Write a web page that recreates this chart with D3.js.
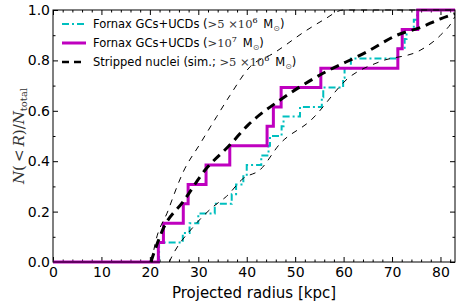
<!DOCTYPE html>
<html>
<head>
<meta charset="utf-8">
<script src="https://cdn.jsdelivr.net/npm/d3@7"></script>
<style>
  body { margin: 0; background: #fff; }
  svg { display: block; }
  .axis text { font-family: "DejaVu Sans", sans-serif; font-size: 14px; fill: #000; }
  .axis path, .axis line { stroke: #000; }
</style>
</head>
<body>
<div id="chart-area"></div>
<script>
// radii (kpc) of each object, sorted -> cumulative fraction
const cyanRadii = [21.9, 21.9, 26.8, 28.2, 30.0, 33.4, 36.9, 37.8, 39.3, 40.0, 43.0, 44.5, 44.8,
  47.2, 47.6, 51.0, 55.5, 55.8, 59.9, 60.2, 61.5, 71.2, 72.6, 73.0, 74.5, 75.2]
const magentaRadii = [21.75, 22.8, 26.9, 27.9, 31.6, 36.5, 44.2, 45.5, 47.1, 55.3, 71.2, 72.1, 75.3]

// simulated stripped nuclei: median and envelopes
const simR = [20.2, 22.8, 26.9, 31.4, 36.5, 40.3, 46.9, 55.1, 64.8, 71.0, 75.8, 80.0, 83.0]
const simMed = [0, 0.134, 0.24, 0.365, 0.464, 0.544, 0.643, 0.742, 0.834, 0.90, 0.93, 0.965, 0.985]
const upR = [20.5, 20.7, 23.8, 26.9, 30.4, 33.8, 36.5, 40.7, 45.5, 52.4, 55.8, 60.0, 83.0]
const upV = [0, 0.035, 0.206, 0.358, 0.47, 0.577, 0.66, 0.775, 0.828, 0.92, 0.96, 1.0, 1.0]
const loR = [24.0, 24.5, 29.0, 33.1, 35.8, 39.3, 42.7, 46.9, 53.1, 61.3, 67.5, 75.8, 80.0, 82.6, 83.0]
const loV = [0, 0.02, 0.14, 0.22, 0.26, 0.332, 0.365, 0.47, 0.56, 0.735, 0.795, 0.84, 0.9, 0.96, 0.975]

const xMajor = [0, 10, 20, 30, 40, 50, 60, 70, 80]
const yMajor = [0, 0.2, 0.4, 0.6, 0.8, 1.0]

const W = 458, H = 305
const PLOT = { LEFT: 53, RIGHT: 455, TOP: 10, BOTTOM: 262 }

const svg = d3.select("#chart-area").append("svg")
  .attr("width", W).attr("height", H)

const x = d3.scaleLinear().domain([0, 83]).range([PLOT.LEFT, PLOT.RIGHT])
const y = d3.scaleLinear().domain([0, 1]).range([PLOT.BOTTOM, PLOT.TOP])

const xMinor = d3.range(0, 84, 2).filter(d => d % 10 !== 0)
const yMinor = d3.range(1, 10, 2).map(d => d / 10)

// axes, ticks pointing inward on all four sides
svg.append("g").attr("class", "axis")
  .attr("transform", `translate(0,${PLOT.BOTTOM})`)
  .call(d3.axisBottom(x).tickValues(xMajor).tickFormat(d3.format("d"))
    .tickSizeInner(-5).tickSizeOuter(0).tickPadding(5))
svg.append("g").attr("class", "axis")
  .attr("transform", `translate(0,${PLOT.BOTTOM})`)
  .call(d3.axisBottom(x).tickValues(xMinor).tickFormat("").tickSizeInner(-2.5).tickSizeOuter(0))
svg.append("g").attr("class", "axis")
  .attr("transform", `translate(0,${PLOT.TOP})`)
  .call(d3.axisTop(x).tickValues(xMajor).tickFormat("").tickSizeInner(-5).tickSizeOuter(0))
svg.append("g").attr("class", "axis")
  .attr("transform", `translate(0,${PLOT.TOP})`)
  .call(d3.axisTop(x).tickValues(xMinor).tickFormat("").tickSizeInner(-2.5).tickSizeOuter(0))

svg.append("g").attr("class", "axis")
  .attr("transform", `translate(${PLOT.LEFT},0)`)
  .call(d3.axisLeft(y).tickValues(yMajor).tickFormat(d3.format(".1f"))
    .tickSizeInner(-5).tickSizeOuter(0).tickPadding(3))
svg.append("g").attr("class", "axis")
  .attr("transform", `translate(${PLOT.LEFT},0)`)
  .call(d3.axisLeft(y).tickValues(yMinor).tickFormat("").tickSizeInner(-2.5).tickSizeOuter(0))
svg.append("g").attr("class", "axis")
  .attr("transform", `translate(${PLOT.RIGHT},0)`)
  .call(d3.axisRight(y).tickValues(yMajor).tickFormat("").tickSizeInner(-5).tickSizeOuter(0))
svg.append("g").attr("class", "axis")
  .attr("transform", `translate(${PLOT.RIGHT},0)`)
  .call(d3.axisRight(y).tickValues(yMinor).tickFormat("").tickSizeInner(-2.5).tickSizeOuter(0))

svg.selectAll(".axis .domain").remove()

// plot lines
svg.append("clipPath").attr("id", "clip").append("rect")
  .attr("x", PLOT.LEFT).attr("y", PLOT.TOP - 2)
  .attr("width", PLOT.RIGHT - PLOT.LEFT).attr("height", PLOT.BOTTOM - PLOT.TOP + 4)
const g = svg.append("g").attr("clip-path", "url(#clip)")

function cdf(radii) {
  const n = radii.length
  const pts = [[0, 0]]
  radii.forEach((r, i) => pts.push([r, (i + 1) / n]))
  pts.push([83, 1])
  return pts
}
const step = d3.line().x(d => x(d[0])).y(d => y(d[1])).curve(d3.curveStepAfter)
const smooth = d3.line().x(d => x(d[0])).y(d => y(d[1])).curve(d3.curveMonotoneX)

g.append("path").datum(cdf(cyanRadii))
  .attr("d", step).attr("fill", "none")
  .attr("stroke", "#00bfbf").attr("stroke-width", 2)
  .attr("stroke-dasharray", "7,3,2,3")

g.append("path").datum(cdf(magentaRadii))
  .attr("d", step).attr("fill", "none")
  .attr("stroke", "#bf00bf").attr("stroke-width", 3)

g.append("path").datum(upR.map((r, i) => [r, upV[i]]))
  .attr("d", smooth).attr("fill", "none")
  .attr("stroke", "#000").attr("stroke-width", 1)
  .attr("stroke-dasharray", "6,6")
g.append("path").datum(loR.map((r, i) => [r, loV[i]]))
  .attr("d", smooth).attr("fill", "none")
  .attr("stroke", "#000").attr("stroke-width", 1)
  .attr("stroke-dasharray", "6,6")
g.append("path").datum(simR.map((r, i) => [r, simMed[i]]))
  .attr("d", smooth).attr("fill", "none")
  .attr("stroke", "#000").attr("stroke-width", 3)
  .attr("stroke-dasharray", "9,6")

// frame
svg.append("rect")
  .attr("x", PLOT.LEFT).attr("y", PLOT.TOP)
  .attr("width", PLOT.RIGHT - PLOT.LEFT).attr("height", PLOT.BOTTOM - PLOT.TOP)
  .attr("fill", "none").attr("stroke", "#000").attr("stroke-width", 1)

// axis labels
svg.append("text")
  .attr("x", (PLOT.LEFT + PLOT.RIGHT) / 2).attr("y", 298)
  .attr("text-anchor", "middle")
  .attr("font-family", "DejaVu Sans, sans-serif").attr("font-size", "15px")
  .text("Projected radius [kpc]")

const yl = svg.append("text")
  .attr("transform", `translate(24,${(PLOT.TOP + PLOT.BOTTOM) / 2}) rotate(-90)`)
  .attr("text-anchor", "middle")
  .attr("font-family", "DejaVu Serif, serif").attr("font-size", "15px")
  .attr("fill", "#333")
yl.append("tspan").attr("font-style", "italic").text("N")
yl.append("tspan").text("(\u2009<\u2009")
yl.append("tspan").attr("font-style", "italic").text("R")
yl.append("tspan").text(")/")
yl.append("tspan").attr("font-style", "italic").text("N")
yl.append("tspan").attr("font-size", "10px").attr("dy", 3).text("total")

// legend
const legend = svg.append("g")
const rows = [
  { color: "#00bfbf", width: 2, dash: "7,3,2,3", y: 24, label: "Fornax GCs+UCDs (", math: ">5 ×10", sup: "6", tail: "M" },
  { color: "#bf00bf", width: 3, dash: null, y: 43, label: "Fornax GCs+UCDs (", math: ">10", sup: "7", tail: "M" },
  { color: "#000", width: 2.5, dash: "7,5", y: 62, label: "Stripped nuclei (sim.; ", math: ">5 ×10", sup: "6", tail: "M" }
]
rows.forEach(r => {
  legend.append("line")
    .attr("x1", 62).attr("x2", 86).attr("y1", r.y).attr("y2", r.y)
    .attr("stroke", r.color).attr("stroke-width", r.width)
    .attr("stroke-dasharray", r.dash)
  const t = legend.append("text")
    .attr("x", 93).attr("y", r.y + 4)
    .attr("font-family", "DejaVu Sans, sans-serif").attr("font-size", "11.5px")
  t.append("tspan").text(r.label)
  t.append("tspan").attr("font-family", "DejaVu Serif, serif").attr("fill", "#333").text(r.math)
  t.append("tspan").attr("font-family", "DejaVu Serif, serif").attr("font-size", "8px").attr("dy", -5).text(r.sup)
  t.append("tspan").attr("dy", 5).text("\u2002" + r.tail)
  t.append("tspan").attr("font-size", "8px").attr("dy", 3).attr("fill", "#555").text("\u2299")
  t.append("tspan").attr("dy", -3).text(")")
})
</script>
</body>
</html>
